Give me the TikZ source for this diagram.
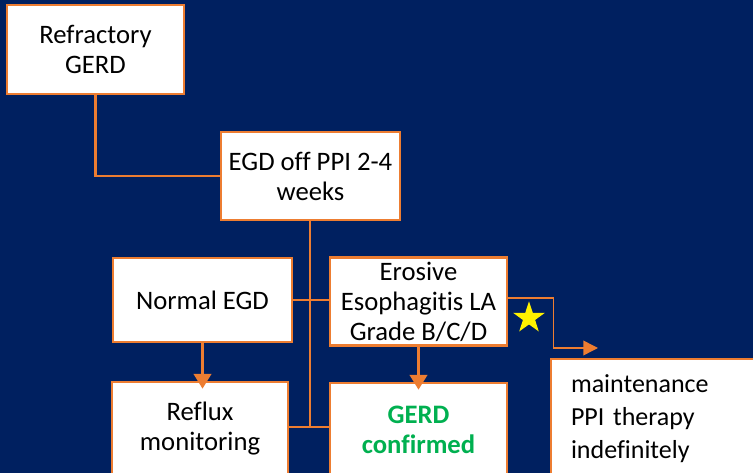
\documentclass[tikz,border=0pt]{standalone}
\usepackage{fontspec}
\setmainfont{Carlito}[Ligatures=NoCommon]
\usetikzlibrary{arrows.meta,shapes.geometric}
\definecolor{navy}{HTML}{002060}
\definecolor{gorange}{HTML}{ED7D31}
\definecolor{okgreen}{HTML}{00B050}
\tikzset{
  box/.style={draw=gorange, line width=2pt, fill=white, align=center, inner sep=0pt,
    font=\fontsize{20}{22.5}\selectfont},
  link/.style={draw=gorange, line width=1.9pt},
  tip/.style={link, -{Triangle[length=11pt,width=13pt]}, shorten >=-6pt}
}
\begin{document}
\begin{tikzpicture}[x=0.75pt,y=-0.75pt]
\useasboundingbox (0,0) rectangle (753,473);
\clip (0,0) rectangle (753,473);
\fill[navy] (0,0) rectangle (753,473);
% boxes
\node[box, minimum width=132.75pt, minimum height=66.75pt] (ref) at (95.5,49.5) {Refractory\\GERD};
\node[box, minimum width=134.25pt, minimum height=66pt] (egd) at (310.5,176) {EGD off PPI 2-4\\weeks};
\node[box, minimum width=134.25pt, minimum height=63pt] (normal) at (202.5,300) {Normal EGD};
\node[box, minimum width=132.75pt, minimum height=66pt] (erosive) at (418.5,301.5) {Erosive\\Esophagitis LA\\Grade B/C/D};
\node[box, minimum width=132pt, minimum height=70.5pt] (reflux) at (200,429) {Reflux\\monitoring};
\node[box, minimum width=132.75pt, minimum height=69.75pt, text=okgreen, font=\fontsize{20}{22.5}\selectfont\bfseries] (confirmed) at (418.5,429.5) {GERD\\confirmed};
\node[box, minimum width=156.75pt, minimum height=89.25pt, text width=126.75pt, inner xsep=15pt, align=left,
  font=\fontsize{19.5}{24.75}\selectfont] (maint) at (655.5,418.5) {maintenance\\PPI therapy\\indefinitely};
\node[star, star points=5, star point ratio=2.6, fill=yellow, minimum size=25pt, inner sep=0pt] (star) at (529,318) {};
% connectors
\coordinate (trunk) at (310,427);
\coordinate (maintin) at (598,348);
\draw[link] (ref.south) |- (egd.west);
\draw[link] (egd.south -| trunk) -- (trunk);
\draw[link] (reflux.east |- trunk) -- (confirmed.west |- trunk);
\draw[link] (normal.east) -- (normal.east -| erosive.west);
\draw[tip] (normal.south) -- (normal.south |- reflux.north);
\draw[tip] (erosive.south) -- (erosive.south |- confirmed.north);
\draw[draw=gorange, line width=1.1pt, -{Triangle[length=11pt,width=11pt]}] ([yshift=2.5pt]erosive.east) -- ++(45,0) |- (maintin);
\end{tikzpicture}
\end{document}
